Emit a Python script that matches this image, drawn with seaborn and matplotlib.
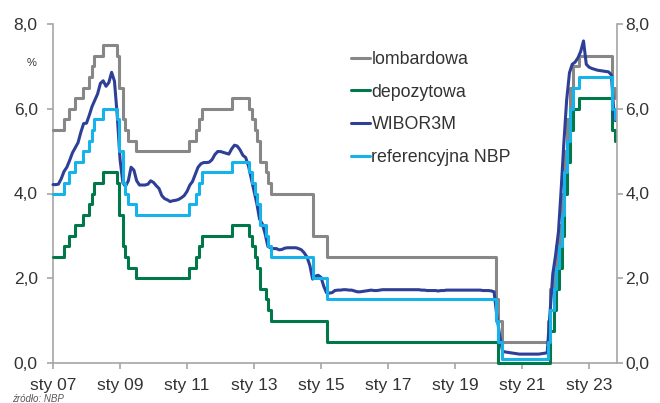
import matplotlib
matplotlib.use("Agg")
import matplotlib.pyplot as plt
from matplotlib.lines import Line2D
import seaborn as sns
import pandas as pd

# NBP policy rates: dates of changes and levels (%), last point = end of data
rate_dates = [
    "2007-01-01", "2007-04-26", "2007-06-28", "2007-08-30", "2007-11-29",
    "2008-01-31", "2008-02-28", "2008-03-27", "2008-06-26", "2008-11-27",
    "2008-12-24", "2009-01-29", "2009-02-26", "2009-03-26", "2009-06-25",
    "2011-01-20", "2011-04-06", "2011-05-12", "2011-06-09", "2012-05-10",
    "2012-11-08", "2012-12-06", "2013-01-10", "2013-02-07", "2013-03-07",
    "2013-05-09", "2013-06-06", "2013-07-04", "2014-10-09", "2015-03-05",
    "2020-03-18", "2020-04-09", "2020-05-29", "2021-10-07", "2021-11-04",
    "2021-12-09", "2022-01-05", "2022-02-09", "2022-03-09", "2022-04-07",
    "2022-05-06", "2022-06-09", "2022-07-08", "2022-09-08", "2023-09-07",
    "2023-10-05", "2023-10-15",
]
referencyjna = [
    4.00, 4.25, 4.50, 4.75, 5.00, 5.25, 5.50, 5.75, 6.00, 5.75,
    5.00, 4.25, 4.00, 3.75, 3.50, 3.75, 4.00, 4.25, 4.50, 4.75,
    4.50, 4.25, 4.00, 3.75, 3.25, 3.00, 2.75, 2.50, 2.00, 1.50,
    1.00, 0.50, 0.10, 0.50, 1.25, 1.75, 2.25, 2.75, 3.50, 4.50,
    5.25, 6.00, 6.50, 6.75, 6.00, 5.75, 5.75,
]
lombardowa = [
    5.50, 5.75, 6.00, 6.25, 6.50, 6.75, 7.00, 7.25, 7.50, 7.25,
    6.50, 5.75, 5.50, 5.25, 5.00, 5.25, 5.50, 5.75, 6.00, 6.25,
    6.00, 5.75, 5.50, 5.25, 4.75, 4.50, 4.25, 4.00, 3.00, 2.50,
    1.50, 1.00, 0.50, 1.00, 1.75, 2.25, 2.75, 3.25, 4.00, 5.00,
    5.75, 6.50, 7.00, 7.25, 6.50, 6.25, 6.25,
]
depozytowa = [
    2.50, 2.75, 3.00, 3.25, 3.50, 3.75, 4.00, 4.25, 4.50, 4.25,
    3.50, 2.75, 2.50, 2.25, 2.00, 2.25, 2.50, 2.75, 3.00, 3.25,
    3.00, 2.75, 2.50, 2.25, 1.75, 1.50, 1.25, 1.00, 1.00, 0.50,
    0.50, 0.00, 0.00, 0.00, 0.75, 1.25, 1.75, 2.25, 3.00, 4.00,
    4.75, 5.50, 6.00, 6.25, 5.50, 5.25, 5.25,
]

# WIBOR3M, monthly (start of month) Jan 2007 - Oct 2023, plus mid-Oct 2023
wibor3m = [
    4.21, 4.21, 4.22, 4.35, 4.52, 4.62, 4.78, 4.96, 5.08, 5.20, 5.45, 5.65,  # 2007
    5.66, 5.85, 6.05, 6.20, 6.35, 6.60, 6.66, 6.53, 6.62, 6.86, 6.65, 5.85,  # 2008
    4.80, 4.25, 4.17, 4.30, 4.62, 4.55, 4.30, 4.20, 4.20, 4.20, 4.22, 4.30,  # 2009
    4.26, 4.18, 4.12, 3.95, 3.88, 3.85, 3.81, 3.83, 3.84, 3.86, 3.90, 3.95,  # 2010
    4.05, 4.20, 4.28, 4.45, 4.62, 4.70, 4.73, 4.73, 4.74, 4.80, 4.92, 4.99,  # 2011
    4.99, 4.97, 4.95, 4.93, 5.05, 5.14, 5.12, 5.03, 4.90, 4.85, 4.65, 4.35,  # 2012
    4.05, 3.75, 3.40, 3.28, 3.05, 2.75, 2.72, 2.70, 2.70, 2.67, 2.68, 2.71,  # 2013
    2.72, 2.72, 2.72, 2.72, 2.70, 2.67, 2.60, 2.50, 2.30, 1.98, 2.05, 2.07,  # 2014
    2.02, 1.80, 1.66, 1.65, 1.66, 1.71, 1.72, 1.72, 1.73, 1.73, 1.72, 1.72,  # 2015
    1.70, 1.68, 1.68, 1.69, 1.70, 1.71, 1.72, 1.71, 1.71, 1.72, 1.73, 1.73,  # 2016
    1.73, 1.73, 1.73, 1.73, 1.73, 1.73, 1.73, 1.73, 1.73, 1.73, 1.73, 1.73,  # 2017
    1.72, 1.72, 1.71, 1.71, 1.71, 1.71, 1.70, 1.71, 1.71, 1.72, 1.72, 1.72,  # 2018
    1.72, 1.72, 1.72, 1.72, 1.72, 1.72, 1.72, 1.72, 1.72, 1.72, 1.71, 1.71,  # 2019
    1.71, 1.70, 1.68, 1.10, 0.65, 0.28, 0.26, 0.25, 0.24, 0.23, 0.22, 0.21,  # 2020
    0.21, 0.21, 0.21, 0.21, 0.21, 0.21, 0.21, 0.22, 0.23, 0.24, 1.20, 2.10,  # 2021
    2.55, 3.10, 4.05, 5.20, 6.20, 6.85, 7.05, 7.10, 7.20, 7.35, 7.60, 7.05,  # 2022
    6.98, 6.95, 6.93, 6.91, 6.90, 6.89, 6.88, 6.87, 6.80, 5.80,              # 2023
    5.72,
]
wibor_dates = list(pd.date_range("2007-01-01", "2023-10-01", freq="MS")) + [pd.Timestamp("2023-10-15")]

tick_years = [2007, 2009, 2011, 2013, 2015, 2017, 2019, 2021, 2023]
tick_labels = ["sty 07", "sty 09", "sty 11", "sty 13", "sty 15", "sty 17", "sty 19", "sty 21", "sty 23"]
y_ticks = [0, 2, 4, 6, 8]
y_labels = ["0,0", "2,0", "4,0", "6,0", "8,0"]

names = ["lombardowa", "depozytowa", "WIBOR3M", "referencyjna NBP"]
colors = ["#878787", "#00784A", "#2E3F98", "#16B2EA"]

sns.set_style("white")
plt.rcParams["font.family"] = ["Liberation Sans", "DejaVu Sans"]

rates = pd.DataFrame({
    "data": pd.to_datetime(rate_dates),
    "lombardowa": lombardowa,
    "depozytowa": depozytowa,
    "referencyjna NBP": referencyjna,
})
wibor = pd.DataFrame({"data": wibor_dates, "WIBOR3M": wibor3m})

fig, ax = plt.subplots(figsize=(6.6, 4.03), dpi=100)
fig.subplots_adjust(left=53 / 660, right=617 / 660, bottom=40 / 403, top=379 / 403)

lw = 2.2
for name, col in zip(names, colors):
    if name == "WIBOR3M":
        sns.lineplot(data=wibor, x="data", y=name, ax=ax, color=col, lw=lw,
                     estimator=None, clip_on=False, zorder=3)
    else:
        sns.lineplot(data=rates, x="data", y=name, ax=ax, color=col, lw=lw,
                     estimator=None, drawstyle="steps-post", clip_on=False, zorder=3)

ax.set_xlim(pd.Timestamp("2007-01-01"), pd.Timestamp("2023-11-01"))
ax.set_ylim(0, 8)
ax.set_xlabel("")
ax.set_ylabel("")
ax.set_xticks([pd.Timestamp(f"{y}-01-01") for y in tick_years])
ax.set_xticklabels(tick_labels)
ax.set_yticks(y_ticks)
ax.set_yticklabels(y_labels)

spine_col = "#A6A6A6"
text_col = "#333333"
for s in ["top", "right"]:
    ax.spines[s].set_visible(False)
for s in ["left", "bottom"]:
    ax.spines[s].set_color(spine_col)
    ax.spines[s].set_linewidth(1.2)
ax.tick_params(axis="x", direction="out", length=4, width=1.2, color=spine_col,
               labelsize=12.5, labelcolor=text_col, pad=7, bottom=True)
ax.tick_params(axis="y", direction="out", length=4, width=1.2, color=spine_col,
               labelsize=12.5, labelcolor=text_col, pad=7, left=True)

ax2 = ax.twinx()
ax2.set_ylim(0, 8)
ax2.set_yticks(y_ticks)
ax2.set_yticklabels(y_labels)
for s in ["top", "left", "bottom"]:
    ax2.spines[s].set_visible(False)
ax2.spines["right"].set_color(spine_col)
ax2.spines["right"].set_linewidth(1.2)
ax2.tick_params(axis="y", direction="out", length=4, width=1.2, color=spine_col,
                labelsize=12.5, labelcolor=text_col, pad=2, right=True)

handles = [Line2D([], [], color=c, lw=lw) for c in colors]
fig.legend(handles, names, loc="upper left", bbox_to_anchor=(351 / 660, 1 - 51 / 403),
           frameon=False, fontsize=12.8, handlelength=1.05, handletextpad=0.1,
           labelspacing=0.88, borderpad=0, borderaxespad=0, labelcolor=text_col)

fig.text(32 / 660, 1 - 63 / 403, "%", fontsize=8, color=text_col, ha="center", va="center")
fig.text(12 / 660, 1 - 399 / 403, "źródło: NBP", fontsize=7, style="italic",
         color="#595959", ha="left", va="center")

fig.savefig("out.png", dpi=100)
